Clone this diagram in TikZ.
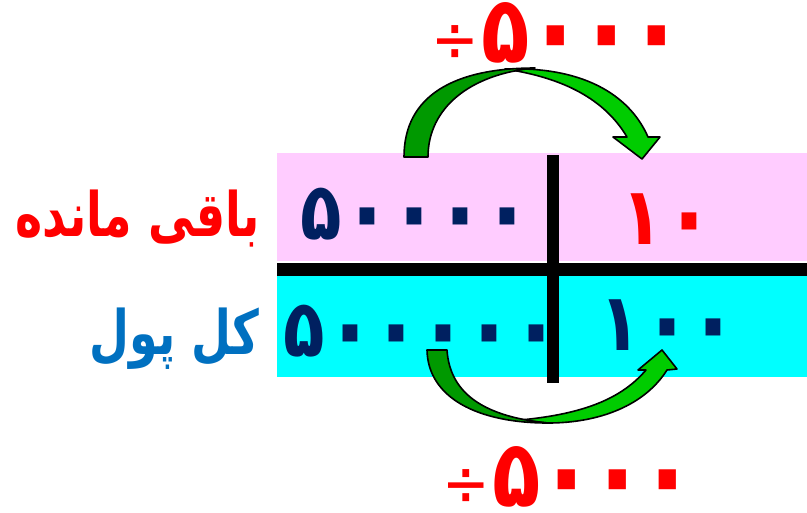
\documentclass[tikz,border=0pt]{standalone}
\usepackage{fontspec}
\usepackage{graphicx}
\usetikzlibrary{positioning}
\newfontfamily\fafont[Script=Arabic, FakeStretch=0.75]{DejaVu Sans}
\newfontfamily\digfont[FakeStretch=0.85]{DejaVu Sans}
\TeXXeTstate=1
\definecolor{pinkrow}{RGB}{255,204,255}
\definecolor{cyanrow}{RGB}{0,255,255}
\definecolor{navy}{RGB}{0,32,96}
\definecolor{labelblue}{RGB}{0,112,192}
\definecolor{arrowdark}{RGB}{0,153,0}
\definecolor{arrowlight}{RGB}{0,204,0}
% digits set at a fixed pitch, zeros a little larger
\newcommand{\zeroglyph}{\raisebox{-0.072em}{\scalebox{1.25}{۰}}}
\newcommand{\spread}[2]{\def\spreadw{#1}\spreadnext#2\relax}
\def\spreadnext#1{\ifx\relax#1\else
  \makebox[\spreadw][c]{\ifnum`#1="06F0 \zeroglyph\else#1\fi}%
  \expandafter\spreadnext\fi}

\begin{document}
\begin{tikzpicture}[x=0.75pt, y=-0.75pt]
  \useasboundingbox (0,0) rectangle (807,512);
  \tikzset{
    digits/.style={font=\digfont\bfseries\fontsize{60}{60}\selectfont, inner sep=0pt, anchor=base},
    bigdigits/.style={digits, font=\digfont\bfseries\fontsize{70}{70}\selectfont, text=red},
    rowlabel/.style={font=\fafont\bfseries\fontsize{46}{48}\selectfont, inner sep=0pt, anchor=base east},
    arrowback/.style={fill=arrowdark, draw=black, line width=1.2pt, line join=round},
    arrowfront/.style={fill=arrowlight, draw=black, line width=1.2pt, line join=round}
  }
  % rows and cross
  \fill[pinkrow] (277,153) rectangle (807,261);
  \fill[cyanrow] (277,276) rectangle (807,377);
  \fill[black] (277,263) rectangle (807,276);
  \fill[black] (547,155) rectangle (559,383);
  % labels
  \node[rowlabel, text=red] (restlabel) at (260,236) {\beginR باقی مانده\endR};
  \node[rowlabel, text=labelblue] (alllabel) at (260,354) {\beginR کل پول\endR};
  % numbers
  \node[digits, text=navy] (restleft) at (414,239) {\spread{34.9pt}{۵۰۰۰۰}};
  \node[digits, text=red] (restright) at (666,244) {\spread{35.2pt}{۱۰}};
  \node[digits, text=navy] (allleft) at (420,356) {\spread{34.8pt}{۵۰۰۰۰۰}};
  \node[digits, text=navy] (allright) at (667,350) {\spread{35.2pt}{۱۰۰}};
  \node[bigdigits] (divtop) at (556,62)
    {\makebox[37.8pt]{\mdseries\fontsize{50}{50}\selectfont ÷}\spread{37.8pt}{۵۰۰۰}};
  \node[bigdigits] (divbottom) at (567,506)
    {\makebox[37.7pt]{\mdseries\fontsize{50}{50}\selectfont ÷}\spread{37.7pt}{۵۰۰۰}};
  % top arrow
  \draw[arrowfront] (505,69) .. controls (590,66) and (632,100) .. (648,137)
    -- (660,137) -- (642,159) -- (613,137) -- (627,137)
    .. controls (605,100) and (565,78) .. (505,69) -- cycle;
  \draw[arrowback] (404,157) .. controls (404,95) and (455,68) .. (535,68)
    .. controls (470,74) and (428,108) .. (428,157) -- cycle;
  % bottom arrow
  \draw[arrowfront] (548,423) .. controls (600,423) and (645,405) .. (667,370)
    -- (677,369) -- (662,350) -- (638,370) -- (646,370)
    .. controls (622,398) and (585,414) .. (520,420) -- cycle;
  \draw[arrowback] (427,350) .. controls (428,398) and (478,423) .. (548,423)
    .. controls (488,417) and (450,396) .. (447,350) -- cycle;
\end{tikzpicture}
\end{document}
